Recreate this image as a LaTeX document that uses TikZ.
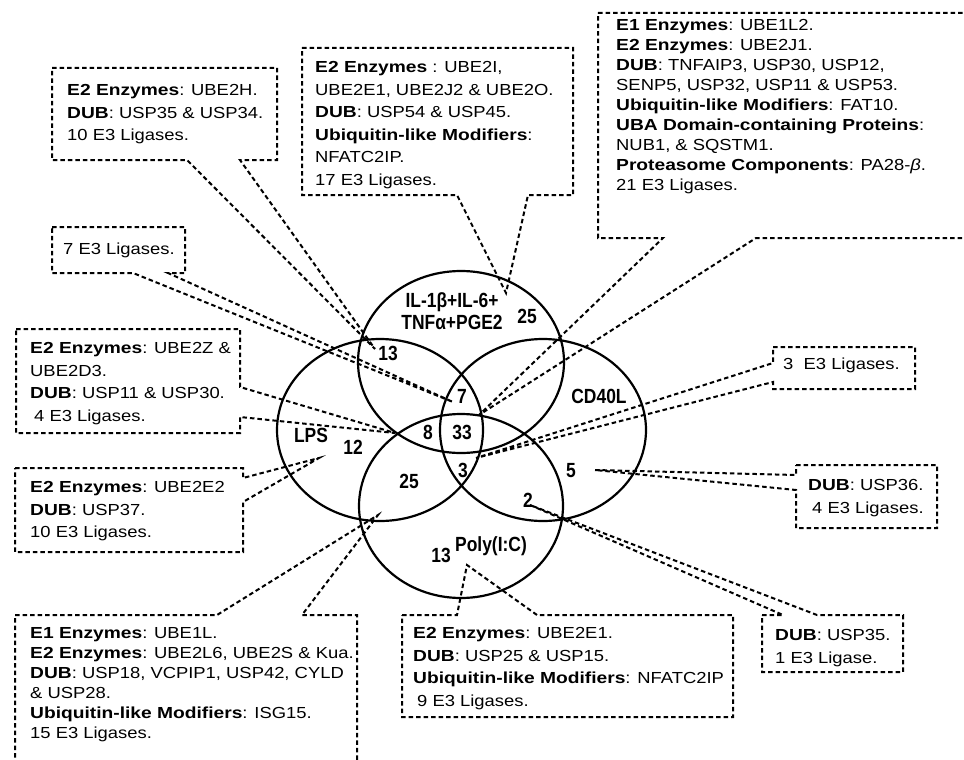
\documentclass[tikz,border=0pt]{standalone}
\usepackage{fontspec}
\setmainfont{Liberation Sans}[UprightFeatures={FakeStretch=1.15}, BoldFeatures={FakeStretch=1.2}, ItalicFeatures={FakeStretch=1.15}]
\newfontfamily\lblfont{Liberation Sans}[FakeStretch=0.85]
\tikzset{
 venn/.style={draw=black, line width=2.2pt},
 callout/.style={draw=black, line width=2pt, dash pattern=on 4.5pt off 3pt, line join=miter},
 txt/.style={anchor=north west, inner sep=0pt, align=left, font=\fontsize{16}{22.5}\selectfont},
 txtd/.style={txt, font=\fontsize{16}{20}\selectfont},
 lbl/.style={inner sep=0pt, font=\lblfont\bfseries\fontsize{20.5}{22}\selectfont},
}
\begin{document}
\begin{tikzpicture}[x=1pt,y=-1pt]
\clip (0,0) rectangle (964,760);
\fill[white] (0,0) rectangle (964,760);
% Venn ellipses
\coordinate (cT) at (461,362);
\coordinate (cL) at (380,430);
\coordinate (cR) at (543,430);
\coordinate (cB) at (461,506);
\draw[venn] (cT) ellipse [x radius=103pt, y radius=91pt];
\draw[venn] (cL) ellipse [x radius=103pt, y radius=91pt];
\draw[venn] (cR) ellipse [x radius=103pt, y radius=91pt];
\draw[venn] (cB) ellipse [x radius=102pt, y radius=92pt];
% labels
\node[lbl, align=center] (lT) at (452,311) {IL-1β+IL-6+\\TNFα+PGE2};
\node[lbl] (lR) at (599,396) {CD40L};
\node[lbl] (lL) at (311,435) {LPS};
\node[lbl] (lB) at (491,546) {Poly(I:C)};
\node[lbl] (n25t) at (527,316) {25};
\node[lbl] (n13t) at (388,353) {13};
\node[lbl] (n7) at (462,396) {7};
\node[lbl] (n8) at (428,432) {8};
\node[lbl] (n33) at (462,432) {33};
\node[lbl] (n3) at (463,470) {3};
\node[lbl] (n12) at (353,447) {12};
\node[lbl] (n5) at (571,471) {5};
\node[lbl] (n25b) at (409,481) {25};
\node[lbl] (n2) at (528,500) {2};
\node[lbl] (n13b) at (441,555) {13};
% callout tips
\coordinate (tipA) at (375,349);
\coordinate (tipB) at (453,402);
\coordinate (tipC) at (506,293);
\coordinate (tipD) at (479,415);
\coordinate (tipE) at (395,433);
\coordinate (tipF) at (319,458);
\coordinate (tipG) at (378,515);
\coordinate (tipH) at (467,565);
\coordinate (tipI) at (530,505);
\coordinate (tipJ) at (595,470);
\coordinate (tipK) at (476,458);
% callout A
\draw[callout] (52,68) -- (277,68) -- (277,160) -- (240,160) -- (tipA) -- (187,160) -- (52,160) -- cycle;
\node[txt] (bA) at (67,84.5) {\textbf{E2 Enzymes}: UBE2H.\\\textbf{DUB}: USP35 \& USP34.\\10 E3 Ligases.};
% callout B
\draw[callout] (52,227) -- (185,227) -- (185,273) -- (168,273) -- (tipB) -- (133,273) -- (52,273) -- cycle;
\node[txt] (bB) at (63,242.5) {7 E3 Ligases.};
% callout C
\draw[callout] (302,48) -- (573,48) -- (573,195) -- (528,195) -- (tipC) -- (457,195) -- (302,195) -- cycle;
\node[txt] (bC) at (315,61.5) {\textbf{E2 Enzymes} : UBE2I,\\UBE2E1, UBE2J2 \& UBE2O.\\\textbf{DUB}: USP54 \& USP45.\\\textbf{Ubiquitin-like Modifiers}:\\NFATC2IP.\\17 E3 Ligases.};
% callout D
\draw[callout] (598,13) -- (990,13) -- (990,238) -- (756,238) -- (tipD) -- (663,238) -- (598,238) -- cycle;
\node[txtd] (bD) at (616,19.5) {\textbf{E1 Enzymes}: UBE1L2.\\\textbf{E2 Enzymes}: UBE2J1.\\\textbf{DUB}: TNFAIP3, USP30, USP12,\\SENP5, USP32, USP11 \& USP53.\\\textbf{Ubiquitin-like Modifiers}: FAT10.\\\textbf{UBA Domain-containing Proteins}:\\NUB1, \& SQSTM1.\\\textbf{Proteasome Components}: PA28-\textit{β}.\\21 E3 Ligases.};
% callout E
\draw[callout] (16,329) -- (240,329) -- (240,387) -- (tipE) -- (240,417) -- (240,433) -- (16,433) -- cycle;
\node[txt] (bE) at (30,342.5) {\textbf{E2 Enzymes}: UBE2Z \&\\UBE2D3.\\\textbf{DUB}: USP11 \& USP30.\\\hspace*{4pt}4 E3 Ligases.};
% callout F
\draw[callout] (15,468) -- (243,468) -- (243,478) -- (tipF) -- (243,502) -- (243,552) -- (15,552) -- cycle;
\node[txt] (bF) at (30,481.5) {\textbf{E2 Enzymes}: UBE2E2\\\textbf{DUB}: USP37.\\10 E3 Ligases.};
% callout G
\draw[callout] (15,780) -- (15,615) -- (217,615) -- (tipG) -- (302,615) -- (357,615) -- (357,780);
\node[txtd] (bG) at (30,627.5) {\textbf{E1 Enzymes}: UBE1L.\\\textbf{E2 Enzymes}: UBE2L6, UBE2S \& Kua.\\\textbf{DUB}: USP18, VCPIP1, USP42, CYLD\\\& USP28.\\\textbf{Ubiquitin-like Modifiers}: ISG15.\\15 E3 Ligases.};
% callout H
\draw[callout] (402,615) -- (457,615) -- (tipH) -- (537,615) -- (733,615) -- (733,717) -- (402,717) -- cycle;
\node[txt] (bH) at (413,627.5) {\textbf{E2 Enzymes}: UBE2E1.\\\textbf{DUB}: USP25 \& USP15.\\\textbf{Ubiquitin-like Modifiers}: NFATC2IP\\\hspace*{4pt}9 E3 Ligases.};
% callout I
\draw[callout] (762,615) -- (783,615) -- (tipI) -- (817,615) -- (903,615) -- (903,672) -- (762,672) -- cycle;
\node[txt] (bI) at (775,629.5) {\textbf{DUB}: USP35.\\1 E3 Ligase.};
% callout J
\draw[callout] (796,465) -- (937,465) -- (937,528) -- (796,528) -- (796,490) -- (tipJ) -- (796,475) -- cycle;
\node[txt] (bJ) at (808,479.5) {\textbf{DUB}: USP36.\\\hspace*{4pt}4 E3 Ligases.};
% callout K
\draw[callout] (773,347) -- (915,347) -- (915,389) -- (773,389) -- (773,382) -- (tipK) -- (773,363) -- cycle;
\node[txt] (bK) at (783,357.5) {3\ \ E3 Ligases.};
\end{tikzpicture}
\end{document}
